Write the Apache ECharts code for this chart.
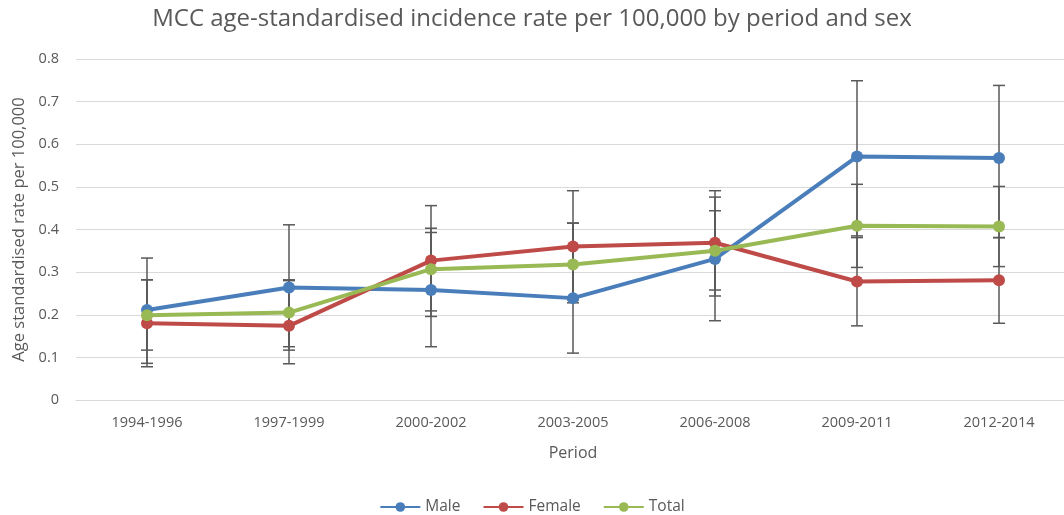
<!DOCTYPE html>
<html>
<head>
<meta charset="utf-8">
<script src="https://cdn.jsdelivr.net/npm/echarts@6/dist/echarts.min.js"></script>
<style>html,body{margin:0;padding:0;background:#fff;}#c{width:1064px;height:515px;}</style>
</head>
<body>
<div id="c"></div>
<script>
const periods = ['1994-1996','1997-1999','2000-2002','2003-2005','2006-2008','2009-2011','2012-2014'];
const yTicks = [0, 0.1, 0.2, 0.3, 0.4, 0.5, 0.6, 0.7, 0.8];

const male   = [0.211, 0.264, 0.258, 0.239, 0.331, 0.571, 0.568];
const female = [0.180, 0.174, 0.327, 0.360, 0.369, 0.278, 0.281];
const total  = [0.199, 0.205, 0.307, 0.318, 0.350, 0.409, 0.407];

const maleLow    = [0.086, 0.117, 0.125, 0.110, 0.186, 0.385, 0.381];
const maleHigh   = [0.333, 0.411, 0.403, 0.415, 0.476, 0.749, 0.738];
const femaleLow  = [0.078, 0.085, 0.196, 0.228, 0.244, 0.174, 0.180];
const femaleHigh = [0.282, 0.282, 0.456, 0.491, 0.491, 0.381, 0.381];
const totalLow   = [0.117, 0.125, 0.209, 0.235, 0.258, 0.311, 0.313];
const totalHigh  = [0.282, 0.280, 0.393, 0.415, 0.444, 0.506, 0.501];

const FONT = '"Open Sans", "Liberation Sans", sans-serif';
const TXT = '#595959';

function errData(lo, hi) { return periods.map((p, i) => [i, lo[i], hi[i]]); }
function errSeries(name, lo, hi) {
  return {
    type: 'custom', name: name + ' CI', z: 1, silent: true,
    data: errData(lo, hi),
    encode: { x: 0, y: [1, 2] },
    renderItem: function (params, api) {
      const x = api.value(0);
      const a = api.coord([x, api.value(1)]);
      const b = api.coord([x, api.value(2)]);
      const w = 6;
      const st = { stroke: '#595959', lineWidth: 1.5 };
      return { type: 'group', children: [
        { type: 'line', shape: { x1: a[0], y1: a[1], x2: b[0], y2: b[1] }, style: st },
        { type: 'line', shape: { x1: a[0]-w, y1: a[1], x2: a[0]+w, y2: a[1] }, style: st },
        { type: 'line', shape: { x1: b[0]-w, y1: b[1], x2: b[0]+w, y2: b[1] }, style: st }
      ]};
    }
  };
}
function lineSeries(name, data, color) {
  return {
    type: 'line', name: name, data: data, z: 3,
    symbol: 'circle', symbolSize: 12,
    lineStyle: { color: color, width: 4 },
    itemStyle: { color: color },
    emphasis: { disabled: true }
  };
}

const chart = echarts.init(document.getElementById('c'));
chart.setOption({
  animation: false,
  backgroundColor: '#fff',
  title: {
    text: 'MCC age-standardised incidence rate per 100,000 by period and sex',
    left: 'center', top: 2,
    textStyle: { fontFamily: FONT, fontWeight: 'normal', fontSize: 24, color: TXT }
  },
  legend: {
    data: ['Male', 'Female', 'Total'],
    top: 494, left: 'center', itemWidth: 40, itemHeight: 12, itemGap: 22,
    textStyle: { fontFamily: FONT, fontSize: 15.5, color: TXT }
  },
  grid: { left: 76, top: 59, width: 994, height: 341, containLabel: false, outerBoundsMode: 'none' },
  xAxis: {
    type: 'category', data: periods, boundaryGap: true,
    name: 'Period', nameLocation: 'middle', nameGap: 45,
    nameTextStyle: { fontFamily: FONT, fontSize: 16, color: TXT },
    axisLine: { lineStyle: { color: '#d9d9d9' } },
    axisTick: { show: false },
    axisLabel: { fontFamily: FONT, fontSize: 14.5, color: TXT, margin: 15 }
  },
  yAxis: {
    type: 'value', min: yTicks[0], max: yTicks[yTicks.length-1], interval: 0.1,
    name: 'Age standardised rate per 100,000', nameLocation: 'middle', nameGap: 48,
    nameTextStyle: { fontFamily: FONT, fontSize: 16.5, color: TXT },
    axisLine: { show: false }, axisTick: { show: false },
    splitLine: { lineStyle: { color: '#d9d9d9', width: 1 } },
    axisLabel: { fontFamily: FONT, fontSize: 14.5, color: TXT, margin: 17,
      formatter: v => String(Math.round(v*10)/10) }
  },
  series: [
    errSeries('Male', maleLow, maleHigh),
    errSeries('Female', femaleLow, femaleHigh),
    errSeries('Total', totalLow, totalHigh),
    lineSeries('Male', male, '#4a7ebb'),
    lineSeries('Female', female, '#be4b48'),
    lineSeries('Total', total, '#98b954')
  ]
});
</script>
</body>
</html>
